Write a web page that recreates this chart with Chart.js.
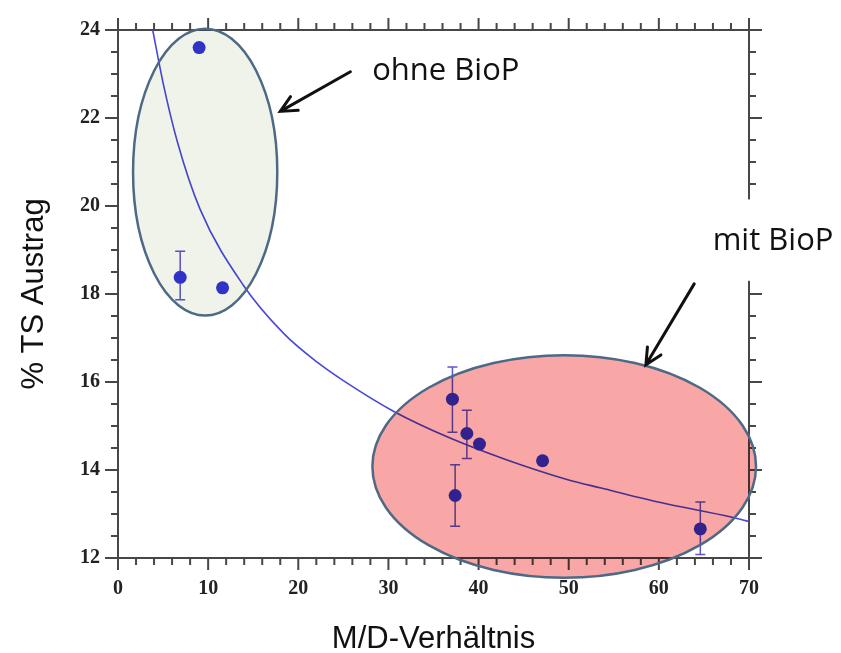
<!DOCTYPE html>
<html>
<head>
<meta charset="utf-8">
<script src="https://cdn.jsdelivr.net/npm/chart.js@4.4.0/dist/chart.umd.min.js"></script>
<style>
html, body { margin: 0; padding: 0; background: #fff; }
</style>
</head>
<body>
<canvas id="chart" width="841" height="653"></canvas>
<script>
// measured values
var mdRatio   = [9.0, 6.9, 11.6, 37.1, 38.7, 40.1, 47.1, 37.4, 64.6];
var tsAustrag = [23.6, 18.38, 18.14, 15.61, 14.83, 14.59, 14.21, 13.42, 12.66];
var errLow    = [null, 17.87, null, 14.86, 14.26, null, null, 12.72, 12.08];
var errHigh   = [null, 18.97, null, 16.34, 15.36, null, null, 14.12, 13.27];

// fitted curve
var fitX = [3.85, 5.0, 6.6, 9.1, 13.9, 18.4, 22.1, 25.0, 30.6, 36.9, 43.0, 49.9, 53.6, 60.2, 68.0, 70.0];
var fitY = [24.0, 22.8, 21.45, 19.93, 18.2, 17.1, 16.45, 16.03, 15.33, 14.72, 14.24, 13.78, 13.59, 13.26, 12.93, 12.83];

// groups: [centerX, centerY, radiusX, radiusY]
var groupOhne = [9.67, 20.77, 8.0, 3.26];
var groupMit  = [49.5, 14.08, 21.28, 2.53];

var points = mdRatio.map(function (x, i) { return { x: x, y: tsAustrag[i] }; });
var fit = fitX.map(function (x, i) { return { x: x, y: fitY[i] }; });

function drawArrow(ctx, x1, y1, x2, y2) {
    var ang = Math.atan2(y2 - y1, x2 - x1), len = 18, spread = 0.45;
    ctx.beginPath();
    ctx.moveTo(x1, y1);
    ctx.lineTo(x2, y2);
    ctx.moveTo(x2 - len * Math.cos(ang - spread), y2 - len * Math.sin(ang - spread));
    ctx.lineTo(x2, y2);
    ctx.lineTo(x2 - len * Math.cos(ang + spread), y2 - len * Math.sin(ang + spread));
    ctx.stroke();
}

function drawGroup(ctx, xs, ys, g, fillColor) {
    var cx = xs.getPixelForValue(g[0]), cy = ys.getPixelForValue(g[1]);
    var rx = Math.abs(xs.getPixelForValue(g[0] + g[2]) - cx);
    var ry = Math.abs(ys.getPixelForValue(g[1] + g[3]) - cy);
    ctx.save();
    ctx.beginPath();
    ctx.ellipse(cx, cy, rx, ry, 0, 0, Math.PI * 2);
    ctx.globalCompositeOperation = 'multiply';
    ctx.fillStyle = fillColor;
    ctx.fill();
    ctx.globalCompositeOperation = 'source-over';
    ctx.strokeStyle = '#4d6985';
    ctx.lineWidth = 2.5;
    ctx.stroke();
    ctx.restore();
}

var decor = {
    id: 'decor',
    beforeDatasetsDraw: function (chart) {
        var ctx = chart.ctx, xs = chart.scales.x, ys = chart.scales.y, a = chart.chartArea;
        ctx.save();
        ctx.strokeStyle = '#474747';
        ctx.lineWidth = 2;
        ctx.beginPath();
        ctx.rect(a.left, a.top, a.right - a.left, a.bottom - a.top);
        for (var i = 0; i <= 35; i++) {
            var v = i * 2, px = xs.getPixelForValue(v), len = (v % 10 === 0) ? 12 : 7;
            ctx.moveTo(px, a.bottom); ctx.lineTo(px, a.bottom + len);
            ctx.moveTo(px, a.top); ctx.lineTo(px, a.top - len);
        }
        for (var j = 0; j <= 24; j++) {
            var w = 12 + j * 0.5, py = ys.getPixelForValue(w), l = (j % 4 === 0) ? 13 : 7;
            ctx.moveTo(a.left, py); ctx.lineTo(a.left - l, py);
            ctx.moveTo(a.right, py); ctx.lineTo(a.right + l, py);
        }
        ctx.stroke();

        // error bars
        ctx.strokeStyle = '#5b55cf';
        ctx.lineWidth = 1.5;
        ctx.beginPath();
        for (var k = 0; k < mdRatio.length; k++) {
            if (errLow[k] === null) continue;
            var ex = xs.getPixelForValue(mdRatio[k]);
            var y1 = ys.getPixelForValue(errLow[k]), y2 = ys.getPixelForValue(errHigh[k]);
            ctx.moveTo(ex, y1); ctx.lineTo(ex, y2);
            ctx.moveTo(ex - 5, y1); ctx.lineTo(ex + 5, y1);
            ctx.moveTo(ex - 5, y2); ctx.lineTo(ex + 5, y2);
        }
        ctx.stroke();
        ctx.restore();
    },
    afterDatasetsDraw: function (chart) {
        var ctx = chart.ctx, xs = chart.scales.x, ys = chart.scales.y, a = chart.chartArea;
        drawGroup(ctx, xs, ys, groupOhne, '#eff3ea');
        drawGroup(ctx, xs, ys, groupMit, '#f9a6a6');

        ctx.save();
        // white label box over the right axis
        ctx.fillStyle = '#fff';
        var bt = ys.getPixelForValue(20.15), bb = ys.getPixelForValue(18.3);
        ctx.fillRect(a.right - 4, bt, chart.width - a.right + 4, bb - bt);

        ctx.fillStyle = '#111';
        ctx.font = '31px "Open Sans"';
        ctx.textBaseline = 'alphabetic';
        ctx.fillText('ohne BioP', xs.getPixelForValue(28.2), ys.getPixelForValue(22.86));
        ctx.fillText('mit BioP', xs.getPixelForValue(65.97), ys.getPixelForValue(19.01));

        ctx.strokeStyle = '#111';
        ctx.lineWidth = 3;
        ctx.lineCap = 'round';
        drawArrow(ctx, xs.getPixelForValue(25.78), ys.getPixelForValue(23.05),
                       xs.getPixelForValue(18.0), ys.getPixelForValue(22.15));
        drawArrow(ctx, xs.getPixelForValue(63.92), ys.getPixelForValue(18.23),
                       xs.getPixelForValue(58.56), ys.getPixelForValue(16.39));
        ctx.restore();
    }
};

var tickFont = { family: '"Liberation Serif", serif', size: 20, weight: 'bold' };
var titleFont = { family: '"Liberation Sans", Arial, sans-serif', size: 31, lineHeight: 0.9 };

var ctx = document.getElementById('chart').getContext('2d');
var myChart = new Chart(ctx, {
    type: 'scatter',
    data: {
        datasets: [{
            label: 'Messwerte',
            data: points,
            pointRadius: 6.5,
            pointBackgroundColor: '#3434d8',
            pointBorderWidth: 0,
            order: 1
        }, {
            label: 'Fit',
            type: 'line',
            data: fit,
            borderColor: '#4848dc',
            borderWidth: 1.6,
            pointRadius: 0,
            cubicInterpolationMode: 'monotone',
            fill: false,
            order: 2
        }]
    },
    options: {
        responsive: false,
        animation: false,
        layout: { padding: { top: 22, right: 92, left: 0, bottom: 0 } },
        plugins: { legend: { display: false }, tooltip: { enabled: false } },
        scales: {
            x: {
                type: 'linear', min: 0, max: 70,
                afterFit: function (s) { s.height = 95; },
                grid: { display: false, drawTicks: false },
                border: { display: false },
                ticks: { stepSize: 10, padding: 19, color: '#222', font: tickFont },
                title: { display: true, text: 'M/D-Verhältnis', color: '#111', font: titleFont, padding: { top: 0, bottom: 0 } }
            },
            y: {
                type: 'linear', min: 12, max: 24,
                afterFit: function (s) { s.width = 118; },
                grid: { display: false, drawTicks: false },
                border: { display: false },
                ticks: { stepSize: 2, padding: 18, color: '#222', font: tickFont },
                title: { display: true, text: '% TS Austrag', color: '#111', font: titleFont, padding: { top: 21, bottom: 0 } }
            }
        }
    },
    plugins: [decor]
});
</script>
</body>
</html>
